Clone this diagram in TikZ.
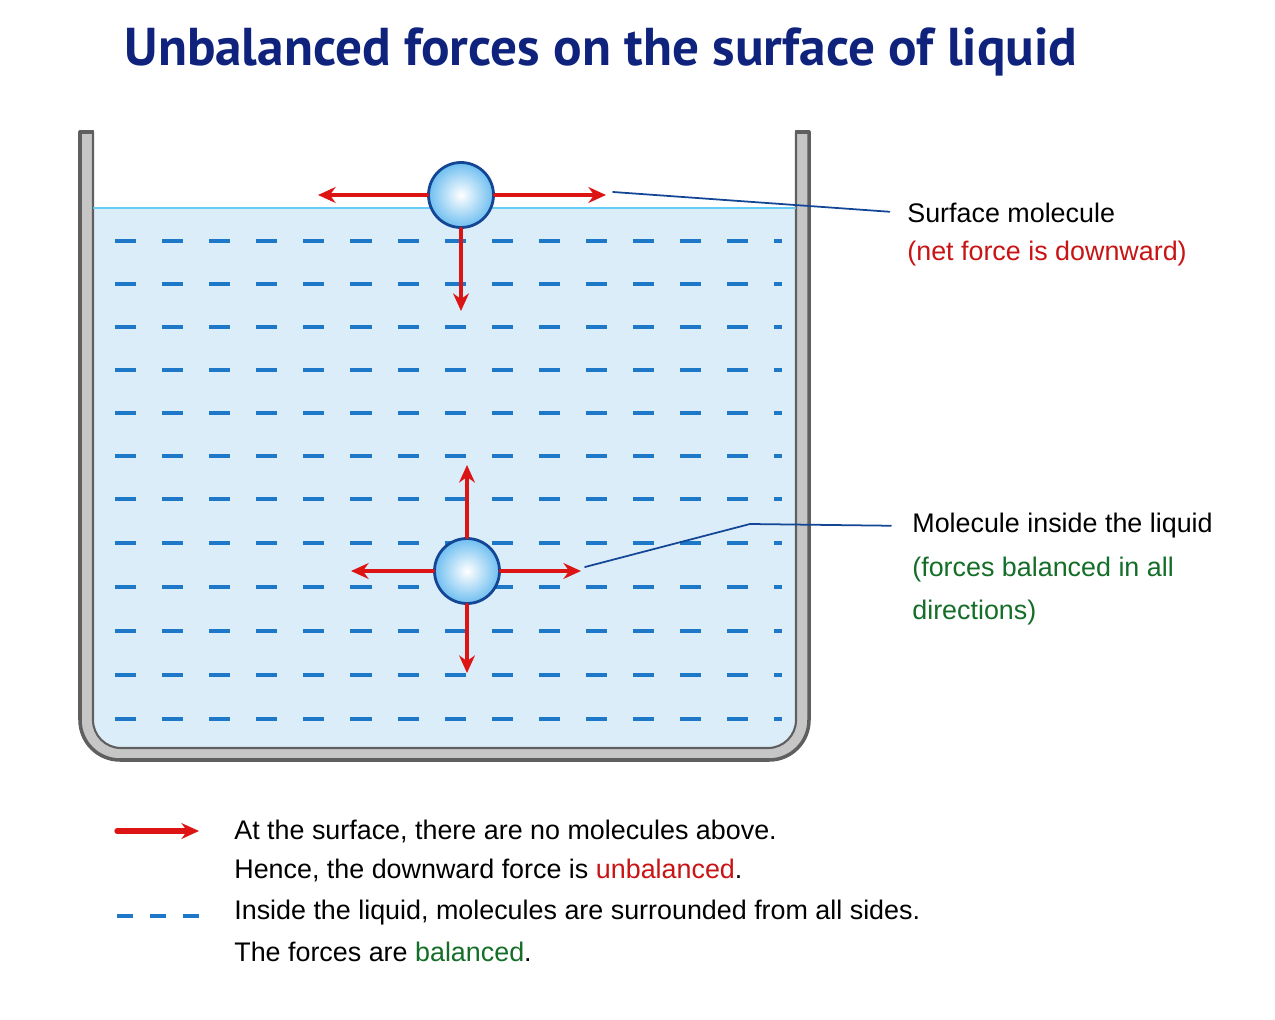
\documentclass[tikz,border=0pt]{standalone}
\usepackage{fontspec}
\setmainfont{Liberation Sans}
\newfontfamily\titlefont{PT Sans}
\usetikzlibrary{arrows.meta}
\definecolor{wall}{RGB}{95,95,95}
\definecolor{water}{RGB}{220,237,250}
\definecolor{dashc}{RGB}{30,120,200}
\definecolor{arr}{RGB}{220,20,20}
\definecolor{lead}{RGB}{20,70,150}
\definecolor{titc}{RGB}{15,35,125}
\definecolor{gtxt}{RGB}{20,110,40}
\definecolor{rtxt}{RGB}{200,20,20}
\definecolor{molc}{RGB}{110,190,240}
\begin{document}
\begin{tikzpicture}[x=0.02cm,y=-0.02cm,line join=round,line cap=round,
  force/.style={arr,line width=2.2pt,-{Stealth[length=10pt,width=9pt]}},
  layer/.style={dashc,line width=2.6pt,dash pattern=on 12pt off 14.8pt,line cap=butt},
  leader/.style={lead,line width=1pt},
  mol/.style={circle,minimum size=1.3cm,draw=lead,line width=1.6pt,inner color=white,outer color=molc,inner sep=0},
  txt/.style={anchor=west,font=\fontsize{15.3}{18}\selectfont,inner sep=0}]
\useasboundingbox (0,0) rectangle (1275,1020);
% container
\fill[gray!45,draw=wall,line width=2pt,rounded corners=0.8cm] (80,132) -- (80,760) -- (809,760) -- (809,132);
\draw[wall,line width=2pt] (80,132) -- (93,132) (796,132) -- (809,132);
\fill[white] (94,120) rectangle (795,208);
\fill[water,rounded corners=0.56cm] (93,208) -- (93,748) -- (796,748) -- (796,208) -- cycle;
\fill[water] (93,208) rectangle (796,260);
\draw[wall,line width=1.2pt,rounded corners=0.56cm] (93,132) -- (93,748) -- (796,748) -- (796,132);
\draw[cyan!60,line width=1.2pt] (94,208) -- (795,208);
\foreach \y in {241,284,327,370,413,456,499,543,587,631,675,719}
  \draw[layer] (115,\y) -- (782,\y);
% molecules
\node[mol] (s) at (461,195) {};
\node[mol] (m) at (467,571) {};
\coordinate (sl) at (318,195); \coordinate (sr) at (606,195); \coordinate (sd) at (461,311);
\draw[force] (s.west) -- (sl);
\draw[force] (s.east) -- (sr);
\draw[force] (s.south) -- (sd);
\coordinate (mu) at (467,465); \coordinate (ml) at (351,571); \coordinate (mr) at (581,571); \coordinate (md) at (467,673);
\draw[force] (m.north) -- (mu);
\draw[force] (m.west) -- (ml);
\draw[force] (m.east) -- (mr);
\draw[force] (m.south) -- (md);
% labels
\node[font=\titlefont\bfseries\fontsize{30.3}{36}\selectfont,text=titc] (title) at (601,52) {Unbalanced forces on the surface of liquid};
\node[txt] (st) at (907,213) {Surface molecule};
\node[txt,text=rtxt] (sn) at (907,254) {(net force is downward)};
\node[txt] (mt) at (912,526) {Molecule inside the liquid};
\node[txt,text=gtxt,align=left] (mn) at (912,591) {(forces balanced in all\\[0.22cm]directions)};
\coordinate (a1) at (613,192);
\draw[leader,shorten >=10pt] (a1) -- (st.west);
\coordinate (a2) at (585,567); \coordinate (a3) at (750,524);
\draw[leader,shorten >=12pt] (a2) -- (a3) -- (mt.west);
% legend
\coordinate (k1) at (117,831); \coordinate (k2) at (199,831);
\draw[force,line width=3pt] (k1) -- (k2);
\draw[layer,dash pattern=on 9pt off 9.7pt] (117,916) -- (200,916);
\node[txt] (l1) at (234,831) {At the surface, there are no molecules above.};
\node[txt] (l2) at (234,870) {Hence, the downward force is \textcolor{rtxt}{unbalanced}.};
\node[txt] (l3) at (234,913) {Inside the liquid, molecules are surrounded from all sides.};
\node[txt] (l4) at (234,952) {The forces are \textcolor{gtxt}{balanced}.};
\end{tikzpicture}
\end{document}
